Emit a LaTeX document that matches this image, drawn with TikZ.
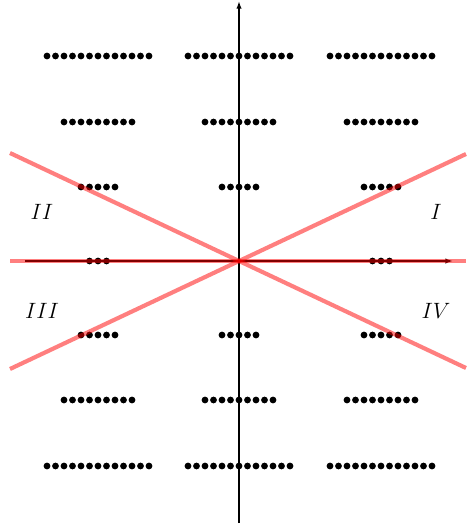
\documentclass[tikz,border=0pt]{standalone}
\usetikzlibrary{arrows.meta}
\newcommand{\dotrow}[3]{%
  \pgfmathsetmacro{\half}{(#3-1)/2}%
  \foreach \k in {1,...,#3}{%
    \fill (#1+8.5*\k-8.5-8.5*\half,#2) circle[radius=2.2pt];
  }%
}
\tikzset{
  axisline/.style={line width=1.1pt, -{Latex[length=5pt,width=3.5pt]}},
  pinkline/.style={red, opacity=0.5, line width=2.7pt, line cap=butt},
  quadlabel/.style={font=\Large}
}
\begin{document}
\begin{tikzpicture}[x=0.65pt,y=-0.65pt]
\useasboundingbox (0,0) rectangle (466,529);
% dots
\foreach \cx in {98,239,381}{
  \dotrow{\cx}{56}{13}
  \dotrow{\cx}{122}{9}
  \dotrow{\cx}{187}{5}
  \dotrow{\cx}{335}{5}
  \dotrow{\cx}{400}{9}
  \dotrow{\cx}{466}{13}
}
\foreach \cx in {98,381}{
  \dotrow{\cx}{261}{3}
}
% axes
\coordinate (O) at (239,261);
\coordinate (xs) at (25,261);
\coordinate (xe) at (453,261);
\coordinate (ys) at (239,523);
\coordinate (ye) at (239,1);
\draw[axisline] (xs) -- (xe);
\draw[axisline] (ys) -- (ye);
% labels
\node[quadlabel] (lI) at (436,212) {$I$};
\node[quadlabel] (lII) at (42,212) {$II$};
\node[quadlabel] (lIII) at (42,311) {$III$};
\node[quadlabel] (lIV) at (436,311) {$IV$};
% pink lines
\coordinate (hl) at (10,261);
\coordinate (hr) at (466,261);
\coordinate (d1l) at (10,153);
\coordinate (d1r) at (466,368);
\coordinate (d2l) at (10,369);
\coordinate (d2r) at (466,154);
\draw[pinkline] (hl) -- (hr);
\draw[pinkline] (d1l) -- (d1r);
\draw[pinkline] (d2l) -- (d2r);
\end{tikzpicture}
\end{document}
